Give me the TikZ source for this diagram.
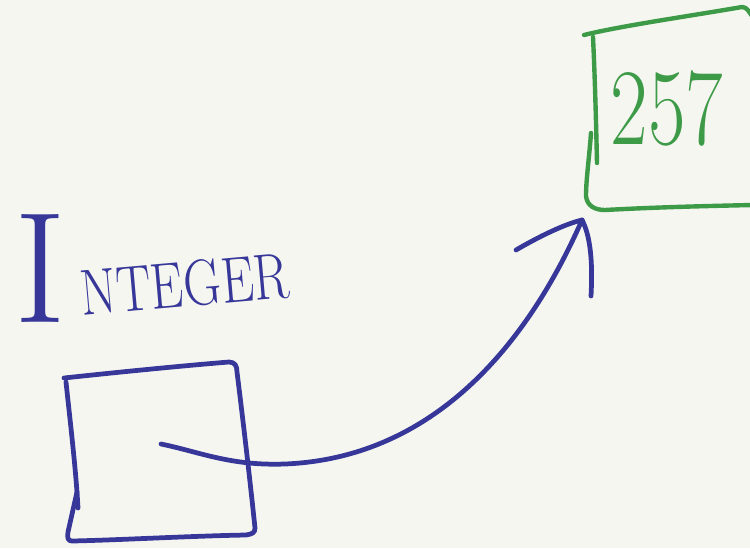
\documentclass[tikz,border=0pt]{standalone}
\usepackage{graphicx}
\definecolor{paper}{HTML}{F6F6F1}
\definecolor{ink}{HTML}{37379A}
\definecolor{gink}{HTML}{3D9A47}
\tikzset{
  bluepen/.style={draw=ink, line width=2.7pt, line cap=round, line join=round},
  greenpen/.style={draw=gink, line width=2.5pt, line cap=round, line join=round},
  label/.style={inner sep=0pt, text=ink},
}
\begin{document}
\begin{tikzpicture}[x=0.02cm, y=-0.02cm]
\fill[paper] (0,0) rectangle (750,548);
\useasboundingbox (0,0) rectangle (750,548);

% Blue box
\draw[bluepen] (64,378) .. controls (120,372) and (180,366) .. (229,362)
  .. controls (235,362) and (237,366) .. (237,372)
  .. controls (243,420) and (250,480) .. (255,528)
  .. controls (255,533) and (252,534) .. (246,535)
  .. controls (190,536) and (120,540) .. (72,541)
  .. controls (68,541) and (67,538) .. (68,532)
  -- (77,492);
\draw[bluepen] (66,382) .. controls (70,420) and (76,470) .. (78,508);

% Green box
\draw[greenpen] (584,35) .. controls (620,26) and (690,16) .. (742,7)
  .. controls (747,7) and (749,12) .. (752,16);
\draw[greenpen] (593,37) .. controls (595,80) and (596,120) .. (597,163);
\draw[greenpen] (591,133) .. controls (589,160) and (586,180) .. (586,196)
  .. controls (587,206) and (595,210) .. (605,210)
  .. controls (660,207) and (710,206) .. (752,205);

% Texts
\node[label, anchor=base, font=\fontsize{90}{92}\selectfont] (bigI) at (40,322) {I};
\node[label, anchor=base west, rotate=5, font=\fontsize{37}{40}\selectfont] (rest) at (82,316) {\scalebox{0.8}[1]{NTEGER}};
\node[inner sep=0pt, text=gink, font=\fontsize{62}{64}\selectfont] (val) at (667,108) {\scalebox{0.75}[1]{257}};

% Arrow
\coordinate (start) at (161,444);
\coordinate (tip) at (582,220);
\coordinate (lbarb) at (516,250);
\coordinate (rbarb) at (591,296);
\draw[bluepen] (start) .. controls (200,452) and (230,466) .. (285,464)
  .. controls (430,458) and (525,350) .. (tip);
\draw[bluepen] (lbarb) .. controls (540,236) and (565,224) .. (tip);
\draw[bluepen] (tip) .. controls (590,235) and (593,260) .. (rbarb);
\end{tikzpicture}
\end{document}
